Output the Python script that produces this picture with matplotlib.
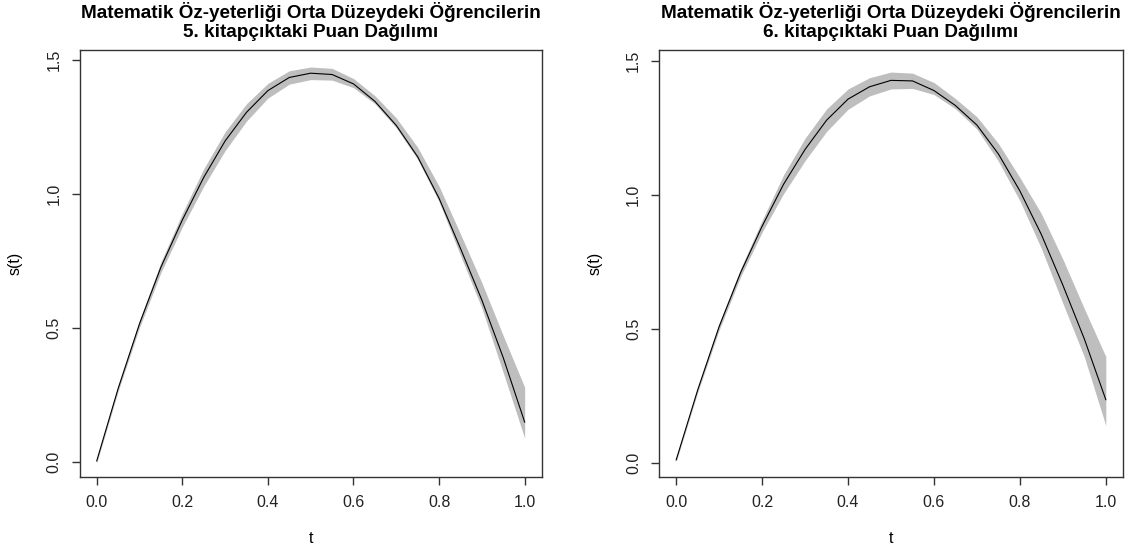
import numpy as np
import matplotlib
matplotlib.use("Agg")
import matplotlib.pyplot as plt

plt.rcParams['font.family'] = ['Liberation Sans', 'DejaVu Sans']

t = [0.00, 0.05, 0.10, 0.15, 0.20, 0.25, 0.30, 0.35, 0.40, 0.45, 0.50,
     0.55, 0.60, 0.65, 0.70, 0.75, 0.80, 0.85, 0.90, 0.95, 1.00]

# booklet 5
s5 = [0.005, 0.275, 0.517, 0.728, 0.904, 1.063, 1.199, 1.306, 1.387, 1.436, 1.452,
      1.447, 1.412, 1.347, 1.257, 1.140, 0.985, 0.798, 0.605, 0.390, 0.150]
lo5 = [-0.003, 0.265, 0.503, 0.708, 0.878, 1.030, 1.163, 1.273, 1.359, 1.411, 1.428,
       1.426, 1.398, 1.338, 1.248, 1.130, 0.972, 0.772, 0.575, 0.334, 0.090]
hi5 = [0.012, 0.286, 0.530, 0.747, 0.929, 1.095, 1.233, 1.338, 1.414, 1.461, 1.475,
       1.470, 1.432, 1.368, 1.285, 1.175, 1.030, 0.852, 0.670, 0.472, 0.280]

# booklet 6
s6 = [0.010, 0.271, 0.508, 0.710, 0.883, 1.040, 1.170, 1.279, 1.358, 1.404, 1.428,
      1.426, 1.390, 1.334, 1.261, 1.153, 1.015, 0.852, 0.663, 0.462, 0.235]
lo6 = [0.003, 0.262, 0.495, 0.695, 0.861, 1.005, 1.128, 1.237, 1.320, 1.370, 1.396,
       1.398, 1.375, 1.322, 1.246, 1.126, 0.978, 0.800, 0.595, 0.395, 0.138]
hi6 = [0.018, 0.281, 0.521, 0.725, 0.905, 1.075, 1.212, 1.321, 1.396, 1.438, 1.459,
       1.455, 1.420, 1.360, 1.292, 1.192, 1.065, 0.930, 0.760, 0.575, 0.396]

titles = ["Matematik Öz-yeterliği Orta Düzeydeki Öğrencilerin\n5. kitapçıktaki Puan Dağılımı",
          "Matematik Öz-yeterliği Orta Düzeydeki Öğrencilerin\n6. kitapçıktaki Puan Dağılımı"]

xticks = [0.0, 0.2, 0.4, 0.6, 0.8, 1.0]
yticks = [0.0, 0.5, 1.0, 1.5]

W, H = 1131, 551
fig = plt.figure(figsize=(W / 100, H / 100), dpi=100)

boxes = [(79.6, 541.8, 50.4, 477.3), (659.0, 1123.0, 50.4, 477.3)]
ylims = [(-0.056, 1.537), (-0.055, 1.540)]
data = [(s5, lo5, hi5), (s6, lo6, hi6)]

for i in range(2):
    x0, x1, y0, y1 = boxes[i]
    ax = fig.add_axes([x0 / W, 1 - y1 / H, (x1 - x0) / W, (y1 - y0) / H])
    s, lo, hi = data[i]
    ax.fill_between(t, lo, hi, color='#bebebe', linewidth=0)
    ax.plot(t, s, color='black', linewidth=0.8)
    ax.set_xlim(-0.04, 1.04)
    ax.set_ylim(*ylims[i])
    ax.set_xticks(xticks)
    ax.set_xticklabels(["%.1f" % v for v in xticks])
    ax.set_yticks(yticks)
    ax.set_yticklabels(["%.1f" % v for v in yticks], rotation=90, va='center')
    ax.tick_params(direction='out', length=6, width=1.0, color='#333333',
                   labelsize=11.5, labelcolor='#222222', pad=7)
    for sp in ax.spines.values():
        sp.set_color('#333333')
        sp.set_linewidth(1.0)
    ax.set_xlabel('t', fontsize=11.5, labelpad=15)
    ax.set_ylabel('s(t)', fontsize=11.5, labelpad=17)
    ax.set_title(titles[i], fontsize=13.6, fontweight='bold', pad=10, linespacing=1.12)

fig.savefig('out.png', dpi=100)
